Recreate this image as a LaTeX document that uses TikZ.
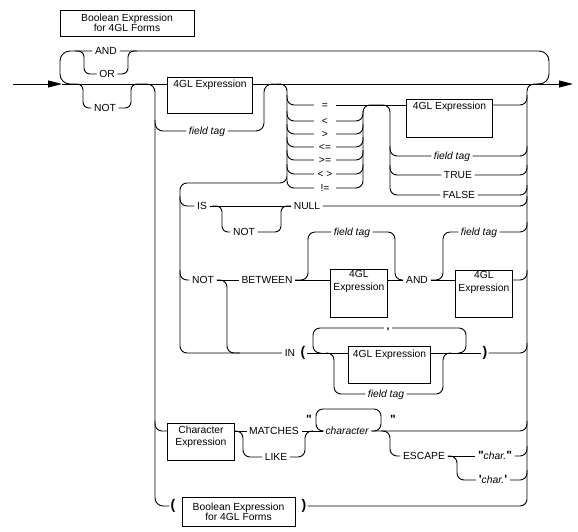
\documentclass[tikz,border=0pt]{standalone}
\usepackage{fontspec}
\setmainfont{Liberation Sans}
\newfontfamily\qfont{Liberation Sans}[Ligatures=TeXOff]
\usetikzlibrary{arrows.meta}
\newcommand\dfont{\fontsize{10.3}{10.5}\selectfont}
\newcommand\pfont{\fontsize{14}{14}\selectfont\bfseries}
\newcommand\myqd{{\qfont\fontsize{12}{12}\selectfont\bfseries "}}
\newcommand\myqs{{\qfont\fontsize{12}{12}\selectfont\bfseries '}}
\begin{document}
\begin{tikzpicture}[x=1pt,y=-1pt,
  ln/.style={line width=0.9pt, rounded corners=7pt},
  txt/.style={font=\dfont, inner xsep=2.5pt, inner ysep=0.5pt, text height=7.5pt, text depth=0pt},
  itx/.style={txt, font=\dfont\itshape},
  opr/.style={txt, minimum width=22pt},
  parn/.style={font=\pfont, inner sep=1pt, text height=10pt, text depth=3pt},
  commast/.style={font=\dfont\bfseries, inner xsep=2.5pt, inner ysep=0.5pt, text height=2pt, text depth=0pt},
  qt/.style={inner sep=0pt, anchor=base},
  bx/.style={draw, line width=0.9pt, inner sep=0pt},
  arr/.style={-{Triangle[length=14pt,width=7pt]}}
]
\useasboundingbox (0,0) rectangle (578,531);

% ---------- nodes ----------
\node[bx, minimum width=134pt, minimum height=26pt, align=center, font={\fontsize{10.3}{10}\selectfont}] (hdr) at (127,23) {Boolean Expression\\for 4GL Forms};

\node[txt] (and1) at (106,51) {AND};
\node[txt] (or1) at (107,74) {OR};
\node[txt] (not1) at (105,108) {NOT};
\node[bx, anchor=north west, minimum width=85pt, minimum height=36pt,
  label={[txt,anchor=north,yshift=-2pt]north:4GL Expression}] (b1) at (167,77) {};
\node[itx] (ft1) at (207,131) {field tag};

\node[opr] (o1) at (325,105) {=};
\node[opr] (o2) at (325,121) {<};
\node[opr] (o3) at (325,134) {>};
\node[opr] (o4) at (325,147) {<=};
\node[opr] (o5) at (325,160) {>=};
\node[opr] (o6) at (325,174) {< >};
\node[opr] (o7) at (325,188) {!=};

\node[bx, anchor=north west, minimum width=86pt, minimum height=38pt,
  label={[txt,anchor=north,yshift=-2pt]north:4GL Expression}] (b2) at (406,99) {};
\node[itx] (ft5) at (452,156) {field tag};
\node[txt] (tru) at (458,175) {TRUE};
\node[txt] (fal) at (459,195) {FALSE};

\node[txt] (is) at (202,206) {IS};
\node[txt] (nul) at (307,206) {NULL};
\node[txt] (not2) at (244,232) {NOT};

\node[txt] (not3) at (203,280) {NOT};
\node[txt] (btw) at (267,280) {BETWEEN};
\node[itx] (ft2) at (352,232) {field tag};
\node[bx, anchor=north west, minimum width=57pt, minimum height=48pt,
  label={[align=center,font={\fontsize{10.3}{13.5}\selectfont},anchor=north,inner sep=1pt]north:4GL\\Expression}] (b3) at (330,269) {};
\node[txt] (and2) at (417,280) {AND};
\node[itx] (ft3) at (479,232) {field tag};
\node[bx, anchor=north west, minimum width=57pt, minimum height=47pt,
  label={[align=center,font={\fontsize{10.3}{13.5}\selectfont},anchor=north,inner sep=1pt]north:4GL\\Expression}] (b4) at (455,270) {};

\node[txt] (in) at (290,353) {IN};
\node[parn] (lp2) at (303,353) {(};
\node[bx, anchor=north west, minimum width=82pt, minimum height=37pt,
  label={[txt,anchor=north,yshift=-3pt]north:4GL Expression}] (b5) at (348,346) {};
\node[commast] (com) at (388,328) {,};
\node[itx] (ft4) at (386,394) {field tag};
\node[parn] (rp2) at (485,353) {)};

\node[bx, anchor=north west, minimum width=67pt, minimum height=37pt,
  label={[align=center,font={\fontsize{10.3}{11.5}\selectfont},anchor=north,inner sep=1pt,yshift=-2pt]north:Character\\Expression}] (b6) at (167,423) {};
\node[txt] (mat) at (274,431) {MATCHES};
\node[txt] (lik) at (276,457) {LIKE};
\node[itx] (chr) at (347,431) {character};
\node[qt] (q1) at (309,423) {\myqd};
\node[qt] (q2) at (393,423) {\myqd};
\node[txt] (esc) at (424,456) {ESCAPE};
\node[txt] (c1) at (495,456) {\myqd\textit{char.}\myqd};
\node[txt] (c2) at (493,480) {\myqs\textit{char.}\myqs};

\node[parn] (lp3) at (173,506) {(};
\node[bx, minimum width=113pt, minimum height=29pt, align=center, font={\fontsize{10.3}{10}\selectfont}] (b7) at (238.5,511.5) {Boolean Expression\\for 4GL Forms};
\node[parn] (rp3) at (304,506) {)};

\coordinate (st) at (13,84);
\coordinate (en) at (573,84);

% ---------- main line ----------
\draw[ln,arr] (st) -- (62,84);
\draw[ln] (62,84) -- (b1.west |- 0,84);
\draw[ln] (b1.east |- 0,84) -- (541,84);
\draw[ln,arr] (541,84) -- (en);

% ---------- AND / OR loop ----------
\draw[ln, rounded corners=10pt] (and1.east) -- (549,51) -- (549,84) -- (537,84);
\draw[ln, rounded corners=10pt] (and1.west) -- (60,51) -- (60,84) -- (74,84);
\draw[ln, rounded corners=6pt] (75,51) -- (84,51) -- (84,74) -- (or1.west);
\draw[ln, rounded corners=6pt] (or1.east) -- (128,74) -- (128,51) -- (137,51);
% NOT
\draw[ln, rounded corners=6pt] (74,84) -- (83,84) -- (83,108) -- (not1.west);
\draw[ln, rounded corners=6pt] (not1.east) -- (131,108) -- (131,84) -- (140,84);

% ---------- left vertical V1 ----------
\draw[ln, rounded corners=8pt] (140,84) -- (155,84) -- (155,506) -- (lp3.west);
\draw[ln, rounded corners=8pt] (155,120) -- (155,131) -- (ft1.west);
\draw[ln, rounded corners=8pt] (ft1.east) -- (264,131) -- (264,84) -- (274,84);

% ---------- operators ----------
\draw[ln] (275,84) -- (287,84) -- (287,183) -- (180,183) -- (180,353) -- (in.west);
\foreach \nm/\y in {o1/105,o2/121,o3/134,o4/147,o5/160,o6/174,o7/188}
  \draw[ln] (287,\y-10) -- (287,\y) -- (\nm.west);
\foreach \nm/\y in {o2/121,o3/134,o4/147,o5/160,o6/174}
  \draw[ln] (\nm.east) -- (363,\y) -- (363,\y-10);
\draw[ln] (o7.east) -- (363,188) -- (363,105) -- (390,105) -- (390,195) -- (fal.west);
\draw[ln] (o1.east) -- (b2.west |- 0,105);
\draw[ln] (390,146) -- (390,156) -- (ft5.west);
\draw[ln] (390,165) -- (390,175) -- (tru.west);

% ---------- right vertical V2 ----------
\draw[ln] (rp3.east) -- (527,506) -- (527,84) -- (541,84);
\draw[ln] (b2.east |- 0,105) -- (527,105) -- (527,95);
\foreach \nm/\y in {ft5/156,tru/175,fal/195,nul/206,ft3/232,rp2/353,chr/431,c1/456,c2/480}
  \draw[ln] (\nm.east) -- (527,\y) -- (527,\y-10);
\draw[ln] (b4.east |- 0,280) -- (527,280) -- (527,270);

% ---------- IS [NOT] NULL ----------
\draw[ln] (180,196) -- (180,206) -- (is.west);
\draw[ln] (is.east) -- (nul.west);
\draw[ln, rounded corners=6pt] (212,206) -- (222,206) -- (222,232) -- (not2.west);
\draw[ln, rounded corners=6pt] (not2.east) -- (281,232) -- (281,206) -- (nul.west);

% ---------- [NOT] BETWEEN ... AND ... ----------
\draw[ln] (180,270) -- (180,280) -- (not3.west);
\draw[ln] (not3.east) -- (btw.west);
\draw[ln] (not3.east) -- (227,280) -- (227,353) -- (240,353);
\draw[ln] (btw.east) -- (b3.west |- 0,280);
\draw[ln] (btw.east) -- (308,280) -- (308,232) -- (ft2.west);
\draw[ln] (ft2.east) -- (395,232) -- (395,280) -- (and2.west);
\draw[ln] (b3.east |- 0,280) -- (and2.west);
\draw[ln] (and2.east) -- (b4.west |- 0,280);
\draw[ln] (and2.east) -- (443,280) -- (443,232) -- (ft3.west);

% ---------- IN ( ... ) ----------
\draw[ln] (lp2.east) -- (b5.west |- 0,353);
\draw[ln] (b5.east |- 0,353) -- (rp2.west);
\draw[ln] (458,353) -- (466,353) -- (466,328) -- (com.east);
\draw[ln] (com.west) -- (313,328) -- (313,353) -- (321,353);
\draw[ln] (326,353) -- (334,353) -- (334,394) -- (ft4.west);
\draw[ln] (ft4.east) -- (443,394) -- (443,353) -- (451,353);

% ---------- MATCHES / LIKE ----------
\draw[ln] (155,421) -- (155,431) -- (b6.west |- 0,431);
\draw[ln] (b6.east |- 0,431) -- (mat.west);
\draw[ln] (b6.east |- 0,431) -- (243,431) -- (243,457) -- (lik.west);
\draw[ln] (mat.east) -- (chr.west);
\draw[ln] (lik.east) -- (305,457) -- (305,431) -- (313,431);
\draw[ln] (372,431) -- (381,431) -- (381,409) -- (316,409) -- (316,431) -- (324,431);
\draw[ln] (381,431) -- (390,431) -- (390,456) -- (esc.west);
\draw[ln] (esc.east) -- (c1.west);
\draw[ln] (esc.east) -- (457,456) -- (457,480) -- (c2.west);
\end{tikzpicture}
\end{document}
